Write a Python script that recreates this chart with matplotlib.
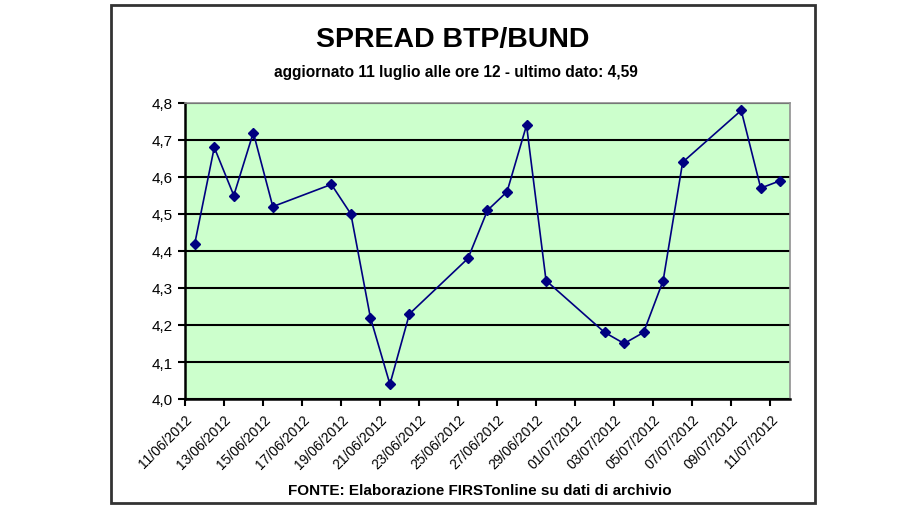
import datetime as dt
import matplotlib
matplotlib.use('Agg')
import matplotlib.pyplot as plt
import matplotlib.dates as mdates
from matplotlib.patches import Rectangle
from matplotlib.ticker import FuncFormatter, MultipleLocator

plt.rcParams['font.family'] = ['Liberation Sans', 'DejaVu Sans']

# Data
dates = ['11/06/2012', '12/06/2012', '13/06/2012', '14/06/2012', '15/06/2012',
         '18/06/2012', '19/06/2012', '20/06/2012', '21/06/2012', '22/06/2012',
         '25/06/2012', '26/06/2012', '27/06/2012', '28/06/2012', '29/06/2012',
         '02/07/2012', '03/07/2012', '04/07/2012', '05/07/2012', '06/07/2012',
         '09/07/2012', '10/07/2012', '11/07/2012']
spread = [4.42, 4.68, 4.55, 4.72, 4.52,
          4.58, 4.50, 4.22, 4.04, 4.23,
          4.38, 4.51, 4.56, 4.74, 4.32,
          4.18, 4.15, 4.18, 4.32, 4.64,
          4.78, 4.57, 4.59]

title = 'SPREAD BTP/BUND'
subtitle = 'aggiornato 11 luglio alle ore 12 - ultimo dato: 4,59'
source = 'FONTE: Elaborazione FIRSTonline su dati di archivio'

days = [dt.datetime.strptime(d, '%d/%m/%Y') for d in dates]
x = [mdates.date2num(d) + 0.5 for d in days]  # points sit mid-day, like Excel
start = mdates.date2num(days[0])
end = start + 31

fig = plt.figure(figsize=(9.2, 5.1), dpi=100)

# outer chart frame
fig.patches.append(Rectangle((111 / 920, 1 - 504 / 510), (815 - 111) / 920, (504 - 6) / 510,
                             transform=fig.transFigure, fill=False,
                             edgecolor='#333333', linewidth=2))

ax = fig.add_axes([185 / 920, 1 - 400 / 510, (790 - 185) / 920, (400 - 104) / 510])
ax.set_facecolor('#ccffcc')

ax.plot(x, spread, color='#000080', linewidth=1.2, marker='D', markersize=5.5,
        markerfacecolor='#000080', markeredgecolor='#000080', zorder=3)

ax.set_ylim(4.0, 4.8)
ax.yaxis.set_major_locator(MultipleLocator(0.1))
ax.yaxis.set_major_formatter(FuncFormatter(lambda v, p: f'{v:.1f}'.replace('.', ',')))
ax.grid(axis='y', color='black', linewidth=1.5)
ax.set_axisbelow(True)

ax.set_xlim(start, end)
ax.set_xticks([start + 2 * i for i in range(16)])
ax.xaxis.set_major_formatter(mdates.DateFormatter('%d/%m/%Y'))
for lab in ax.get_xticklabels():
    lab.set_rotation(45)
    lab.set_ha('right')
    lab.set_rotation_mode('anchor')

ax.tick_params(axis='both', direction='out', length=5, width=1.5, color='black')
ax.tick_params(axis='x', pad=4, labelsize=10)
ax.tick_params(axis='y', pad=4, labelsize=11)

for side in ['left', 'bottom']:
    ax.spines[side].set_color('black')
    ax.spines[side].set_linewidth(1.8)
for side in ['top', 'right']:
    ax.spines[side].set_color('#909090')
    ax.spines[side].set_linewidth(1.2)

fig.text(453 / 920, 1 - 40 / 510, title, ha='center', va='center',
         fontsize=20.5, fontweight='bold')
fig.text(456 / 920, 1 - 73 / 510, subtitle, ha='center', va='center',
         fontsize=11.2, fontweight='bold')
fig.text(480 / 920, 1 - 491 / 510, source, ha='center', va='center',
         fontsize=11, fontweight='bold')

fig.savefig('out.png', dpi=100)
